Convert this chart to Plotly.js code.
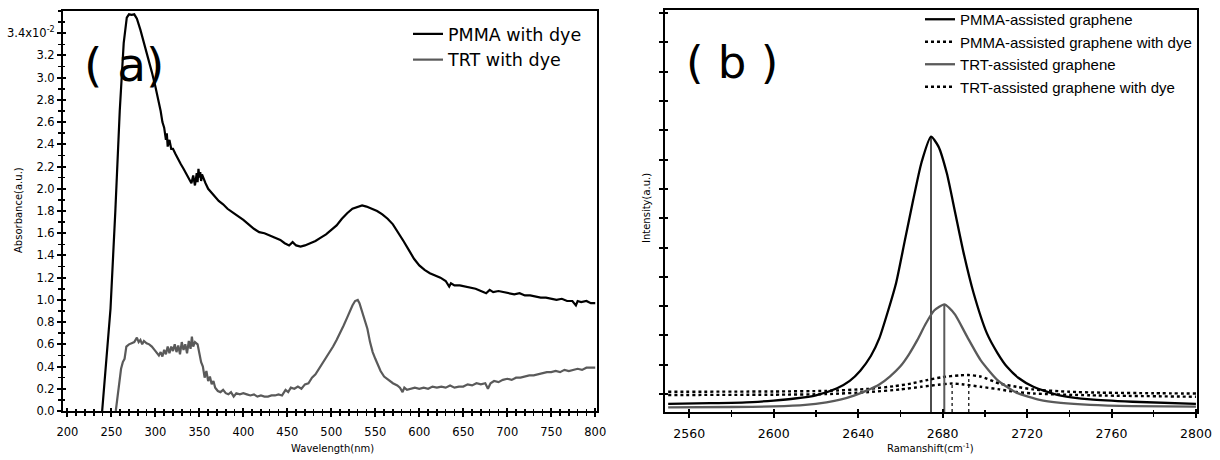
<!DOCTYPE html>
<html><head><meta charset="utf-8">
<script src="https://cdn.plot.ly/plotly-3.0.1.min.js"></script>
<style>html,body{margin:0;padding:0;background:#fff}#chart{width:1220px;height:460px}</style>
</head><body><div id="chart"></div>
<script>
// ---------- Panel (a): UV-vis absorbance ----------
const wlPmma = [239.5,244,249,254.5,259.5,264,267.5,270,273,276,279,283,288,292,296,300,303,306,308,310,312,313,314,316,318,320,323,326,329,332,335,338,341,343,345,347,348,349,350,351,352,353,355,357,360,364,368,372,377,382,389,395,400,406,412,418,424,430,436,442,447,452,456,460,465,470,476,482,488,494,500,506,512,518,524,530,535,540,546,552,558,564,570,576,582,588,594,600,606,612,618,624,630,634,636,640,646,652,658,664,670,676,680,684,690,696,702,708,714,720,726,732,738,744,750,756,762,768,774,778,780,784,790,795,800];
const absPmma = [0.0,0.45,0.92,1.80,2.70,3.31,3.54,3.57,3.565,3.57,3.53,3.43,3.29,3.16,3.05,2.92,2.82,2.70,2.60,2.55,2.44,2.50,2.38,2.44,2.36,2.36,2.31,2.26,2.22,2.18,2.14,2.10,2.05,2.12,2.03,2.14,2.06,2.18,2.10,2.15,2.07,2.13,2.08,2.05,2.00,1.96,1.92,1.89,1.86,1.82,1.78,1.75,1.72,1.68,1.64,1.61,1.60,1.58,1.56,1.54,1.51,1.49,1.52,1.49,1.48,1.49,1.51,1.53,1.56,1.59,1.63,1.67,1.73,1.78,1.82,1.84,1.85,1.84,1.82,1.80,1.77,1.73,1.68,1.61,1.53,1.45,1.37,1.31,1.27,1.24,1.22,1.20,1.17,1.12,1.15,1.13,1.13,1.12,1.11,1.10,1.08,1.06,1.09,1.07,1.08,1.07,1.06,1.05,1.06,1.04,1.04,1.03,1.02,1.02,1.01,1.00,1.01,0.99,0.99,0.95,0.99,0.98,0.99,0.97,0.97];
const wlTrt = [255,258,261,263,265,267,270,273,276,279,281,283,285,287,290,293,296,299,302,304,306,308,310,312,314,316,318,320,322,324,326,328,330,332,334,336,338,340,341.5,343,345,348,350,352,354,356,358,360,362,364,366,368,371,374,377,380,383,386,389,392,396,400,404,408,412,416,420,424,428,432,436,440,444,448,451,454,458,462,466,470,474,478,482,486,490,494,498,502,506,510,514,518,521,524,527,530,532,535,538,541,544,547,550,553,556,560,565,570,575,578,581,583,586,590,595,600,605,610,615,620,625,630,635,640,645,650,655,660,665,670,675,678,681,685,690,695,700,705,710,715,720,725,730,735,740,745,750,755,760,765,770,775,780,785,790,795,800];
const absTrt = [0.0,0.2,0.38,0.44,0.47,0.58,0.60,0.61,0.62,0.66,0.62,0.64,0.60,0.63,0.61,0.60,0.58,0.55,0.52,0.50,0.53,0.49,0.55,0.51,0.58,0.52,0.58,0.54,0.60,0.53,0.59,0.51,0.62,0.55,0.60,0.52,0.63,0.56,0.67,0.58,0.62,0.60,0.52,0.44,0.40,0.30,0.36,0.27,0.31,0.24,0.27,0.21,0.18,0.17,0.19,0.16,0.15,0.17,0.13,0.16,0.15,0.16,0.15,0.14,0.15,0.13,0.14,0.13,0.13,0.14,0.14,0.15,0.14,0.19,0.17,0.21,0.20,0.22,0.20,0.24,0.25,0.30,0.33,0.38,0.43,0.47,0.52,0.58,0.64,0.70,0.77,0.84,0.90,0.95,0.99,1.00,0.97,0.90,0.81,0.74,0.62,0.53,0.47,0.41,0.36,0.31,0.28,0.25,0.23,0.21,0.17,0.21,0.19,0.20,0.21,0.20,0.21,0.20,0.22,0.21,0.22,0.21,0.23,0.21,0.22,0.22,0.24,0.23,0.25,0.24,0.25,0.20,0.25,0.27,0.26,0.28,0.29,0.28,0.30,0.30,0.31,0.32,0.32,0.33,0.34,0.35,0.35,0.36,0.35,0.37,0.36,0.37,0.38,0.37,0.39,0.39,0.39];
const wlTickVals = [200,250,300,350,400,450,500,550,600,650,700,750,800];
const absTickVals = [0,0.2,0.4,0.6,0.8,1.0,1.2,1.4,1.6,1.8,2.0,2.2,2.4,2.6,2.8,3.0,3.2,3.4];
const absTickText = ['0.0','0.2','0.4','0.6','0.8','1.0','1.2','1.4','1.6','1.8','2.0','2.2','2.4','2.6','2.8','3.0','3.2','3.4x10<sup>-2</sup>'];

// ---------- Panel (b): Raman 2D band ----------
const shiftPmma = [2550,2570,2590,2600,2610,2620,2630,2636,2641,2646,2650,2654,2658,2662,2666,2670,2674.5,2678,2682,2686,2690,2694.7,2701,2706,2710.5,2716,2723,2730,2736,2750,2770,2800];
const intPmma = [-0.33,-0.31,-0.27,-0.22,-0.15,-0.04,0.2,0.45,0.8,1.3,1.9,2.8,3.8,5.2,6.6,7.9,8.78,8.45,7.53,6.17,4.80,3.44,2.07,1.4,0.93,0.55,0.25,0.07,-0.05,-0.18,-0.26,-0.33];
const shiftPmmaDye = [2550,2600,2625,2645,2657,2665,2672,2680,2688,2692.4,2698,2707,2715,2723,2740,2755,2780,2800];
const intPmmaDye = [0.08,0.09,0.11,0.18,0.27,0.36,0.47,0.58,0.64,0.65,0.6,0.36,0.25,0.16,0.08,0.05,0.03,0.02];
const shiftTrt = [2550,2580,2600,2615,2625,2632,2638,2644,2650,2655,2660,2664,2668,2672,2676,2680.8,2683,2686,2691.6,2698,2706,2715,2726,2736,2750,2770,2800];
const intTrt = [-0.45,-0.44,-0.42,-0.37,-0.28,-0.18,-0.05,0.12,0.33,0.6,0.95,1.35,1.84,2.4,2.85,3.06,2.95,2.70,1.96,1.16,0.48,0.05,-0.2,-0.3,-0.37,-0.41,-0.43];
const shiftTrtDye = [2550,2600,2625,2645,2660,2670,2678,2684.5,2690,2698,2707,2715,2723,2750,2800];
const intTrtDye = [-0.03,-0.02,0.0,0.07,0.16,0.25,0.32,0.36,0.33,0.25,0.16,0.07,0.02,-0.04,-0.09];
const peakShift = [2674.5, 2692.4, 2680.8, 2684.5];
const peakIntensity = [8.78, 0.65, 3.06, 0.36];
const ramanTickVals = [2560,2600,2640,2680,2720,2760,2800];
const intensityTickVals = [0,1,2,3,4,5,6,7,8,9,10,11,12,13];

const BLACK = '#000000', GRAY = '#5a5a5a';
const ramanYRange = [-0.61, 13.1];
const wlRange = [195, 802], absRange = [0, 3.6], ramanXRange = [2548.5, 2800.5];

// Gray traces go on overlay axes (same ranges) that carry the inward half of the crossing ticks.
const traces = [
  {x: wlPmma, y: absPmma, name: 'PMMA with dye', mode:'lines', line:{color:BLACK, width:2.2}, xaxis:'x', yaxis:'y', legend:'legend'},
  {x: wlTrt, y: absTrt, name: 'TRT with dye', mode:'lines', line:{color:GRAY, width:2.2}, xaxis:'x3', yaxis:'y3', legend:'legend'},
  {x: shiftPmma, y: intPmma, name: 'PMMA-assisted graphene', mode:'lines', line:{color:BLACK, width:2.3, shape:'spline', smoothing:0.6}, xaxis:'x2', yaxis:'y2', legend:'legend2'},
  {x: shiftPmmaDye, y: intPmmaDye, name: 'PMMA-assisted graphene with dye', mode:'lines', line:{color:BLACK, width:2.4, dash:'3px,3px', shape:'spline', smoothing:0.6}, xaxis:'x2', yaxis:'y2', legend:'legend2'},
  {x: shiftTrt, y: intTrt, name: 'TRT-assisted graphene', mode:'lines', line:{color:GRAY, width:2.3, shape:'spline', smoothing:0.6}, xaxis:'x4', yaxis:'y4', legend:'legend2'},
  {x: shiftTrtDye, y: intTrtDye, name: 'TRT-assisted graphene with dye', mode:'lines', line:{color:BLACK, width:2.4, dash:'3px,3px', shape:'spline', smoothing:0.6}, xaxis:'x2', yaxis:'y2', legend:'legend2'}
];
const vColors = [BLACK, BLACK, GRAY, BLACK];
const vWidths = [1.4, 1.2, 2, 1.2];
const vDash = ['solid', 'dot', 'solid', 'dot'];
for (let i = 0; i < peakShift.length; i++) {
  traces.push({x:[peakShift[i], peakShift[i]], y:[ramanYRange[0], peakIntensity[i]], mode:'lines',
    line:{color:vColors[i], width:vWidths[i], dash:vDash[i]}, xaxis:'x2', yaxis:'y2', showlegend:false, hoverinfo:'skip'});
}

const W = 1220, H = 460;
const tickFont = {family:'DejaVu Sans', size:11.5, color:'#000'};
const tickFont2 = {family:'DejaVu Sans', size:12.5, color:'#000'};
const axBase = {showgrid:false, zeroline:false, showline:true, linewidth:2, linecolor:'#000', mirror:true, ticks:'outside', tickwidth:2, tickcolor:'#000'};
const ovBase = {showgrid:false, zeroline:false, showline:false, showticklabels:false, ticks:'inside', tickwidth:2, tickcolor:'#000', ticklen:3};
const xDomA = [63/W, 597/W], yDomA = [1-411/H, 1-11/H];
const xDomB = [665/W, 1197/W], yDomB = [1-412/H, 1-10/H];

const layout = {
  width: W, height: H, margin:{l:0, r:0, t:0, b:0},
  paper_bgcolor:'#fff', plot_bgcolor:'rgba(0,0,0,0)',
  font:{family:'DejaVu Sans', color:'#000'},
  showlegend:true,
  xaxis: Object.assign({}, axBase, {domain:xDomA, anchor:'y', range:wlRange, tickmode:'array', tickvals:wlTickVals, ticklen:4, tickfont:tickFont, ticklabelstandoff:5,
    minor:{dtick:10, tick0:200, ticks:'outside', ticklen:3, tickwidth:1.5, tickcolor:'#000'}}),
  yaxis: Object.assign({}, axBase, {domain:yDomA, anchor:'x', range:absRange, tickmode:'array', tickvals:absTickVals, ticktext:absTickText, ticklen:4, tickfont:tickFont,
    minor:{dtick:0.1, tick0:0, ticks:'outside', ticklen:3, tickwidth:1.5, tickcolor:'#000'}}),
  xaxis3: Object.assign({}, ovBase, {overlaying:'x', anchor:'y3', range:wlRange, tickmode:'array', tickvals:wlTickVals,
    minor:{dtick:10, tick0:200, ticks:'inside', ticklen:2, tickwidth:1.5, tickcolor:'#000'}}),
  yaxis3: Object.assign({}, ovBase, {overlaying:'y', anchor:'x3', range:absRange, tickmode:'array', tickvals:absTickVals,
    minor:{dtick:0.1, tick0:0, ticks:'inside', ticklen:2, tickwidth:1.5, tickcolor:'#000'}}),
  xaxis2: Object.assign({}, axBase, {domain:xDomB, anchor:'y2', range:ramanXRange, tickmode:'array', tickvals:ramanTickVals, ticklen:4, tickfont:tickFont2, ticklabelstandoff:5,
    minor:{dtick:20, tick0:2560, ticks:'outside', ticklen:3, tickwidth:1.5, tickcolor:'#000'}}),
  yaxis2: Object.assign({}, axBase, {domain:yDomB, anchor:'x2', range:ramanYRange, tickmode:'array', tickvals:intensityTickVals, showticklabels:false, ticklen:4}),
  xaxis4: Object.assign({}, ovBase, {overlaying:'x2', anchor:'y4', range:ramanXRange, tickmode:'array', tickvals:ramanTickVals,
    minor:{dtick:20, tick0:2560, ticks:'inside', ticklen:2, tickwidth:1.5, tickcolor:'#000'}}),
  yaxis4: Object.assign({}, ovBase, {overlaying:'y2', anchor:'x4', range:ramanYRange, tickmode:'array', tickvals:intensityTickVals}),
  legend: {x:408/W, y:1-16/H, xanchor:'left', yanchor:'top', bgcolor:'rgba(0,0,0,0)', font:{family:'DejaVu Sans', size:17.5, color:'#000'}, tracegroupgap:0, itemwidth:30},
  legend2: {x:920/W, y:1-3/H, xanchor:'left', yanchor:'top', bgcolor:'rgba(0,0,0,0)', font:{family:'Liberation Sans', size:15, color:'#000'}, tracegroupgap:0, itemwidth:30},
  annotations: [
    {text:'( a)', xref:'paper', yref:'paper', x:83/W, y:1-36/H, xanchor:'left', yanchor:'top', showarrow:false, font:{family:'DejaVu Sans', size:47, color:'#000'}, borderpad:0},
    {text:'( b )', xref:'paper', yref:'paper', x:685/W, y:1-35/H, xanchor:'left', yanchor:'top', showarrow:false, font:{family:'DejaVu Sans', size:45, color:'#000'}, borderpad:0},
    {text:'Absorbance(a.u.)', xref:'paper', yref:'paper', x:18/W, y:1-210/H, xanchor:'center', yanchor:'middle', textangle:-90, showarrow:false, font:{family:'DejaVu Sans', size:10, color:'#000'}},
    {text:'Wavelength(nm)', xref:'paper', yref:'paper', x:332/W, y:1-448/H, xanchor:'center', yanchor:'middle', showarrow:false, font:{family:'DejaVu Sans', size:10, color:'#000'}},
    {text:'Intensity(a.u.)', xref:'paper', yref:'paper', x:646/W, y:1-208/H, xanchor:'center', yanchor:'middle', textangle:-90, showarrow:false, font:{family:'DejaVu Sans', size:10, color:'#000'}},
    {text:'Ramanshift(cm<sup>-1</sup>)', xref:'paper', yref:'paper', x:931/W, y:1-448/H, xanchor:'center', yanchor:'middle', showarrow:false, font:{family:'DejaVu Sans', size:10, color:'#000'}}
  ]
};

Plotly.newPlot('chart', traces, layout, {staticPlot:true, displayModeBar:false});
</script>
</body></html>
